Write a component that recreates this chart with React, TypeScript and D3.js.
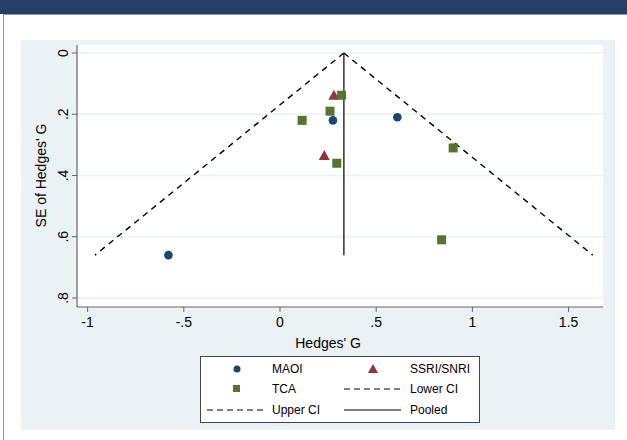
import * as d3 from "d3";

const maoi = [
  { g: 0.275, se: 0.22 },
  { g: 0.61, se: 0.21 },
  { g: -0.58, se: 0.66 },
];
const ssri = [
  { g: 0.28, se: 0.138 },
  { g: 0.23, se: 0.335 },
];
const tca = [
  { g: 0.32, se: 0.138 },
  { g: 0.26, se: 0.19 },
  { g: 0.115, se: 0.22 },
  { g: 0.295, se: 0.36 },
  { g: 0.9, se: 0.31 },
  { g: 0.84, se: 0.61 },
];
const pooled = 0.332;
const seMax = 0.66;
const xTicks = [-1, -0.5, 0, 0.5, 1, 1.5];
const yTicks = [0, 0.2, 0.4, 0.6, 0.8];

const fmt = (v: number) => (v === 0 ? "0" : String(v).replace("0.", "."));

export default function App() {
  const x = d3.scaleLinear().domain([0, 0.5]).range([280, 376.2]);
  const y = d3.scaleLinear().domain([0, 0.8]).range([53, 298]);
  const left = 77, right = 603, top = 45, bottom = 307;
  const font = "Liberation Sans, Arial, sans-serif";
  const lower = d3.line<number>()((([0, seMax]) as number[]).map((s) => [x(pooled - 1.96 * s), y(s)]));
  const upper = d3.line<number>()((([0, seMax]) as number[]).map((s) => [x(pooled + 1.96 * s), y(s)]));
  const navy = "#1a476f", red = "#90353b", green = "#55752f";
  const axis = "#666";
  const tri = (cx: number, cy: number) => `M${cx},${cy - 5.5}L${cx + 5.5},${cy + 4.5}L${cx - 5.5},${cy + 4.5}Z`;
  return (
    <svg width={627} height={440} style={{ position: "absolute", left: 0, top: 0 }}>
      <rect width={627} height={440} fill="#fff" />
      <rect x={3.5} y={14.5} width={640} height={440} fill="#fff" stroke="#8a9aa8" />
      <rect width={627} height={14} fill="#263f66" />
      <rect x={21} y={40} width={594} height={390} fill="#eaf2f3" />
      <rect x={left} y={top} width={right - left} height={bottom - top} fill="#fff" />
      {yTicks.map((t) => (
        <line key={t} x1={left} x2={right} y1={y(t)} y2={y(t)} stroke="#eaf2f3" strokeWidth={1.5} />
      ))}
      <line x1={left} x2={left} y1={top} y2={bottom} stroke={axis} strokeWidth={1.2} />
      <line x1={left} x2={right} y1={bottom} y2={bottom} stroke={axis} strokeWidth={1.2} />
      {yTicks.map((t) => (
        <g key={t}>
          <line x1={left - 5} x2={left} y1={y(t)} y2={y(t)} stroke={axis} />
          <text transform={`translate(${left - 9},${y(t)}) rotate(-90)`} textAnchor="middle" fontFamily={font} fontSize={14}>{fmt(t)}</text>
        </g>
      ))}
      {xTicks.map((t) => (
        <g key={t}>
          <line x1={x(t)} x2={x(t)} y1={bottom} y2={bottom + 5} stroke={axis} />
          <text x={x(t)} y={bottom + 20} textAnchor="middle" fontFamily={font} fontSize={14}>{fmt(t)}</text>
        </g>
      ))}
      <text x={x(0.25)} y={348} textAnchor="middle" fontFamily={font} fontSize={14}>Hedges' G</text>
      <text transform={`translate(46,${y(0.4)}) rotate(-90)`} textAnchor="middle" fontFamily={font} fontSize={14}>SE of Hedges' G</text>
      <path d={lower ?? ""} stroke="#000" strokeWidth={1.4} strokeDasharray="6,5" fill="none" />
      <path d={upper ?? ""} stroke="#000" strokeWidth={1.4} strokeDasharray="6,5" fill="none" />
      <line x1={x(pooled)} x2={x(pooled)} y1={y(0)} y2={y(seMax)} stroke="#222" strokeWidth={1.4} />
      {maoi.map((d, i) => <circle key={i} cx={x(d.g)} cy={y(d.se)} r={4.3} fill={navy} />)}
      {ssri.map((d, i) => <path key={i} d={tri(x(d.g), y(d.se))} fill={red} />)}
      {tca.map((d, i) => <rect key={i} x={x(d.g) - 4.5} y={y(d.se) - 4.5} width={9} height={9} fill={green} />)}
      <rect x={200.5} y={356.5} width={279} height={66} fill="#fff" stroke="#444" />
      <g fontFamily={font} fontSize={12}>
        <circle cx={237} cy={369} r={3.5} fill={navy} />
        <text x={272} y={373}>MAOI</text>
        <path d="M373,364L378,373L368,373Z" fill={red} />
        <text x={410} y={373}>SSRI/SNRI</text>
        <rect x={233} y={385} width={7} height={7} fill={green} />
        <text x={272} y={393}>TCA</text>
        <line x1={344} x2={401} y1={389} y2={389} stroke="#000" strokeDasharray="6,4" />
        <text x={410} y={393}>Lower CI</text>
        <line x1={207} x2={264} y1={410} y2={410} stroke="#000" strokeDasharray="6,4" />
        <text x={272} y={414}>Upper CI</text>
        <line x1={344} x2={401} y1={410} y2={410} stroke="#000" />
        <text x={410} y={414}>Pooled</text>
      </g>
    </svg>
  );
}
